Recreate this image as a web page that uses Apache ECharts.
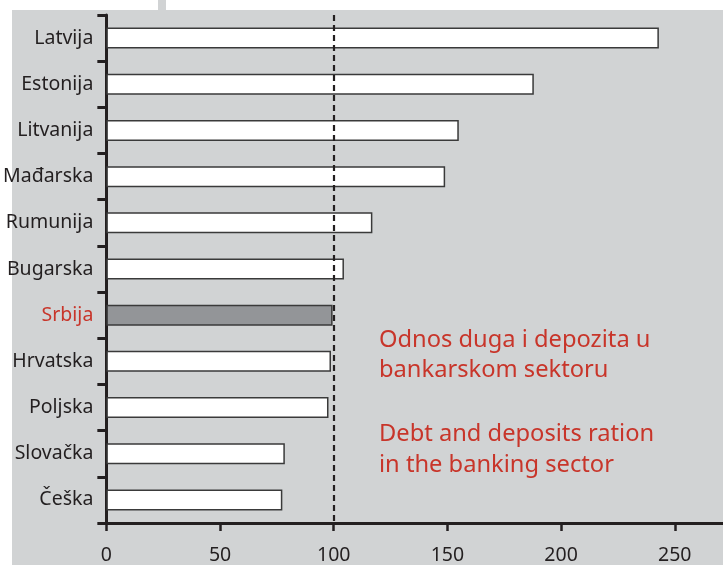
<!DOCTYPE html>
<html>
<head>
<meta charset="utf-8">
<script src="https://cdn.jsdelivr.net/npm/echarts@6/dist/echarts.min.js"></script>
<style>
html,body{margin:0;padding:0;background:#fff;}
#c{width:723px;height:565px;}
</style>
</head>
<body>
<div id="c"></div>
<script>
const categories = ['Latvija','Estonija','Litvanija','Mađarska','Rumunija','Bugarska','Srbija','Hrvatska','Poljska','Slovačka','Češka'];
const values = [243, 188, 155, 149, 117, 104.5, 99.5, 98.8, 97.7, 78.5, 77.4];
const highlight = 'Srbija';
const xTicks = [0, 50, 100, 150, 200, 250];
const refValue = 100;
const noteSr = ['Odnos duga i depozita u', 'bankarskom sektoru'];
const noteEn = ['Debt and deposits ration', 'in the banking sector'];

const FONT = '"Noto Sans", sans-serif';
const RED = '#c8352a';
const INK = '#231f20';
const BG = '#d1d3d4';

const chart = echarts.init(document.getElementById('c'), null, {renderer:'canvas'});
const data = categories.map((c,i)=>({
  value: values[i],
  itemStyle: c === highlight ? {color:'#939598'} : {color:'#ffffff'}
}));

chart.setOption({
  animation:false,
  backgroundColor:'#ffffff',
  graphic:[
    {type:'rect', z:-10, shape:{x:12,y:10,width:711,height:555}, style:{fill:BG}},
    {type:'rect', z:-10, shape:{x:158,y:0,width:8,height:11}, style:{fill:BG}},
    {type:'text', z:10, left:379, top:325, style:{
      text: noteSr.join('\n'), fill:RED, font:'23.7px '+FONT, lineHeight:30
    }},
    {type:'text', z:10, left:379, top:419, style:{
      text: noteEn.join('\n'), fill:RED, font:'23.7px '+FONT, lineHeight:31
    }}
  ],
  grid:{left:106, top:15, bottom:33, right:0, containLabel:false},
  xAxis:{
    type:'value', min:0, max:271.2, interval:50,
    axisLine:{show:true, lineStyle:{color:INK, width:3}},
    axisTick:{show:true, length:8, customValues:xTicks, lineStyle:{color:INK, width:2.5}},
    axisLabel:{fontFamily:FONT, fontSize:19.5, color:INK, margin:22, customValues:xTicks},
    splitLine:{show:false}
  },
  yAxis:{
    type:'category', inverse:true, data:categories,
    axisLine:{show:true, lineStyle:{color:INK, width:3}},
    axisTick:{show:true, length:9, lineStyle:{color:INK, width:3}},
    axisLabel:{fontFamily:FONT, fontSize:19.5, margin:13,
      color: (v) => v === highlight ? RED : INK}
  },
  series:[{
    type:'bar', data:data, barWidth:21,
    itemStyle:{borderColor:'#3a3a3a', borderWidth:1.5},
    markLine:{
      silent:true, symbol:'none',
      label:{show:false},
      lineStyle:{color:INK, width:2.2, type:[6,4]},
      data:[{xAxis:refValue}]
    }
  }]
});
</script>
</body>
</html>
